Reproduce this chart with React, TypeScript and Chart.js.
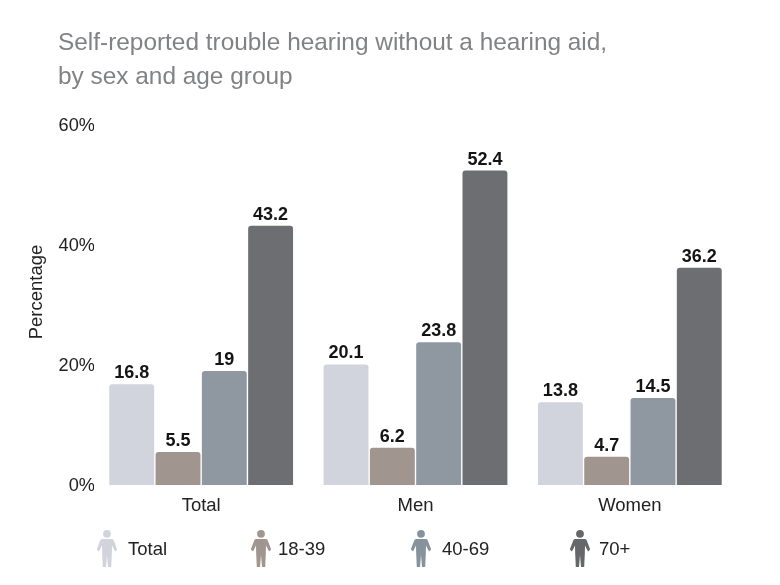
import React, { useEffect, useRef } from "react";
import { Chart, registerables } from "chart.js";

Chart.register(...registerables);

const categories = ["Total", "Men", "Women"];
const seriesNames = ["Total", "18-39", "40-69", "70+"];
const totalValues = [16.8, 20.1, 13.8];
const age18Values = [5.5, 6.2, 4.7];
const age40Values = [19, 23.8, 14.5];
const age70Values = [43.2, 52.4, 36.2];
const seriesColors = ["#D1D3DD", "#A1968F", "#8F98A1", "#6D6E72"];
const legendIconColors = ["#D1D3DD", "#A1968F", "#87939C", "#666769"];
const titleLines = [
  "Self-reported trouble hearing without a hearing aid,",
  "by sex and age group",
];
const yAxisTitle = "Percentage";
const FONT = "'Liberation Sans', Arial, sans-serif";

const legendIconX = [107, 261, 421, 580];
const legendTextX = [128, 278, 442, 599];

function drawPerson(ctx: CanvasRenderingContext2D, cx: number, top: number, color: string) {
  ctx.save();
  ctx.translate(cx, top);
  ctx.fillStyle = color;
  ctx.beginPath();
  ctx.arc(0, 3.8, 3.9, 0, Math.PI * 2);
  ctx.fill();
  ctx.beginPath();
  ctx.moveTo(-4.6, 9);
  ctx.lineTo(4.6, 9);
  ctx.quadraticCurveTo(6, 9, 6.8, 10.4);
  ctx.lineTo(10.2, 19.5);
  ctx.lineTo(8, 21.5);
  ctx.lineTo(5, 15.5);
  ctx.lineTo(4.8, 24);
  ctx.lineTo(4.2, 37);
  ctx.lineTo(1, 37);
  ctx.lineTo(0, 25);
  ctx.lineTo(-1, 37);
  ctx.lineTo(-4.2, 37);
  ctx.lineTo(-4.8, 24);
  ctx.lineTo(-5, 15.5);
  ctx.lineTo(-8, 21.5);
  ctx.lineTo(-10.2, 19.5);
  ctx.lineTo(-6.8, 10.4);
  ctx.quadraticCurveTo(-6, 9, -4.6, 9);
  ctx.closePath();
  ctx.fill();
  ctx.restore();
}

const decorPlugin = {
  id: "decor",
  afterDatasetsDraw(chart: any) {
    const ctx: CanvasRenderingContext2D = chart.ctx;
    ctx.save();
    // value labels
    ctx.font = `bold 18px ${FONT}`;
    ctx.fillStyle = "#141414";
    ctx.textAlign = "center";
    ctx.textBaseline = "alphabetic";
    chart.data.datasets.forEach((ds: any, i: number) => {
      chart.getDatasetMeta(i).data.forEach((bar: any, j: number) => {
        ctx.fillText(String(ds.data[j]), bar.x, bar.y - 6);
      });
    });
    // title
    ctx.font = `24.4px ${FONT}`;
    ctx.fillStyle = "#808285";
    ctx.textAlign = "left";
    titleLines.forEach((line, i) => ctx.fillText(line, 58, 50 + i * 34));
    // legend
    ctx.font = `18.5px ${FONT}`;
    seriesNames.forEach((name, i) => {
      drawPerson(ctx, legendIconX[i], 530, legendIconColors[i]);
      ctx.fillStyle = "#222222";
      ctx.fillText(name, legendTextX[i], 555);
    });
    // y axis title
    ctx.save();
    ctx.translate(42, 292);
    ctx.rotate(-Math.PI / 2);
    ctx.textAlign = "center";
    ctx.fillStyle = "#222222";
    ctx.font = `18.5px ${FONT}`;
    ctx.fillText(yAxisTitle, 0, 0);
    ctx.restore();
    ctx.restore();
  },
};

export default function App() {
  const ref = useRef<HTMLCanvasElement>(null);
  useEffect(() => {
    const allValues = [totalValues, age18Values, age40Values, age70Values];
    const chart = new Chart(ref.current!, {
      type: "bar",
      data: {
        labels: categories,
        datasets: seriesNames.map((name, i) => ({
          label: name,
          data: allValues[i],
          backgroundColor: seriesColors[i],
          borderRadius: { topLeft: 3, topRight: 3, bottomLeft: 0, bottomRight: 0 },
          borderSkipped: false,
          barPercentage: 0.97,
          categoryPercentage: 0.864,
        })),
      },
      options: {
        responsive: false,
        animation: false,
        devicePixelRatio: 1,
        layout: { padding: { left: 0, top: 125, right: 43, bottom: 60 } },
        plugins: { legend: { display: false }, title: { display: false }, tooltip: { enabled: false } },
        scales: {
          x: {
            grid: { display: false },
            border: { display: false },
            ticks: { color: "#222222", font: { family: FONT, size: 18.5 }, padding: 2, maxRotation: 0 },
            afterFit: (s: any) => { s.height = 40; },
          },
          y: {
            min: 0,
            max: 60,
            grid: { display: false, drawTicks: false },
            border: { display: false },
            ticks: {
              stepSize: 20,
              color: "#222222",
              padding: -1,
              labelOffset: 1,
              font: { family: FONT, size: 18.2 },
              callback: (v: any) => `${v}%`,
            },
            afterFit: (s: any) => { s.width = 94; },
          },
        },
      },
      plugins: [decorPlugin],
    } as any);
    return () => chart.destroy();
  }, []);
  return (
    <div style={{ position: "absolute", left: 0, top: 0, width: 780, height: 585, background: "#fff" }}>
      <canvas ref={ref} width={780} height={585} style={{ display: "block" }} />
    </div>
  );
}
